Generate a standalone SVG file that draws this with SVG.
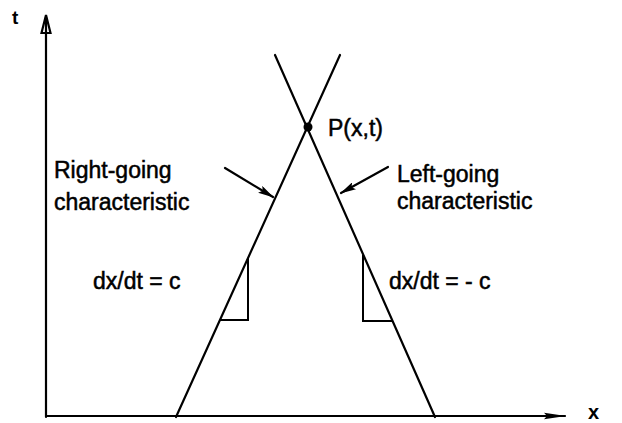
<svg xmlns="http://www.w3.org/2000/svg" width="622" height="423" viewBox="0 0 622 423">
<defs>
<style>
.ln{stroke:#000;stroke-width:2.2;fill:none;stroke-linecap:round}
.thin{stroke:#000;stroke-width:2;fill:none}
.tx{font-family:"Liberation Sans",Arial,sans-serif;font-size:23px;fill:#000;stroke:#000;stroke-width:0.5}
.ax{font-family:"Liberation Sans",Arial,sans-serif;font-weight:bold;fill:#000}
</style>
<marker id="ah" viewBox="0 0 16 8" refX="15" refY="4" markerWidth="16" markerHeight="8" markerUnits="userSpaceOnUse" orient="auto">
<path d="M0,0 L16,4 L0,8 L3,4 Z" fill="#000"/>
</marker>
<marker id="axh" viewBox="0 0 22 8" refX="21" refY="4" markerWidth="22" markerHeight="8" markerUnits="userSpaceOnUse" orient="auto">
<path d="M0,0.8 L22,4 L0,7.2 L3,4 Z" fill="#000"/>
</marker>
</defs>
<g id="axes">
<line class="ln" x1="46" y1="417" x2="46" y2="17" stroke-width="2.6"/>
<path d="M46,15 L50.5,33 L41.5,33 Z" fill="none" stroke="#000" stroke-width="2.2" stroke-linejoin="miter"/>
<line class="ln" x1="46" y1="416" x2="565" y2="416" marker-end="url(#axh)"/>
<text class="ax" x="12" y="24" font-size="19">t</text>
<text class="ax" x="588" y="419" font-size="20">x</text>
</g>
<g id="right-going">
<line class="ln" x1="176" y1="417" x2="340" y2="55"/>
<polyline class="thin" points="248,258 248,320 220,320"/>
<text class="tx" x="54" y="178">Right-going</text>
<text class="tx" x="54" y="210">characteristic</text>
<text class="tx" x="93" y="289">dx/dt = c</text>
</g>
<g id="left-going">
<line class="ln" x1="435" y1="417" x2="275" y2="55"/>
<polyline class="thin" points="363,255 363,321 392,321"/>
<text class="tx" x="397" y="182">Left-going</text>
<text class="tx" x="397" y="209">characteristic</text>
<text class="tx" x="389" y="289">dx/dt = - c</text>
</g>
<g id="P">
<circle cx="308" cy="127" r="4.5" fill="#000"/>
<text class="tx" x="328" y="136">P(x,t)</text>
</g>
<g id="connectors">
<line class="ln" x1="225" y1="168" x2="273" y2="197" marker-end="url(#ah)"/>
<line class="ln" x1="388" y1="167" x2="341" y2="193" marker-end="url(#ah)"/>
</g>
</svg>
